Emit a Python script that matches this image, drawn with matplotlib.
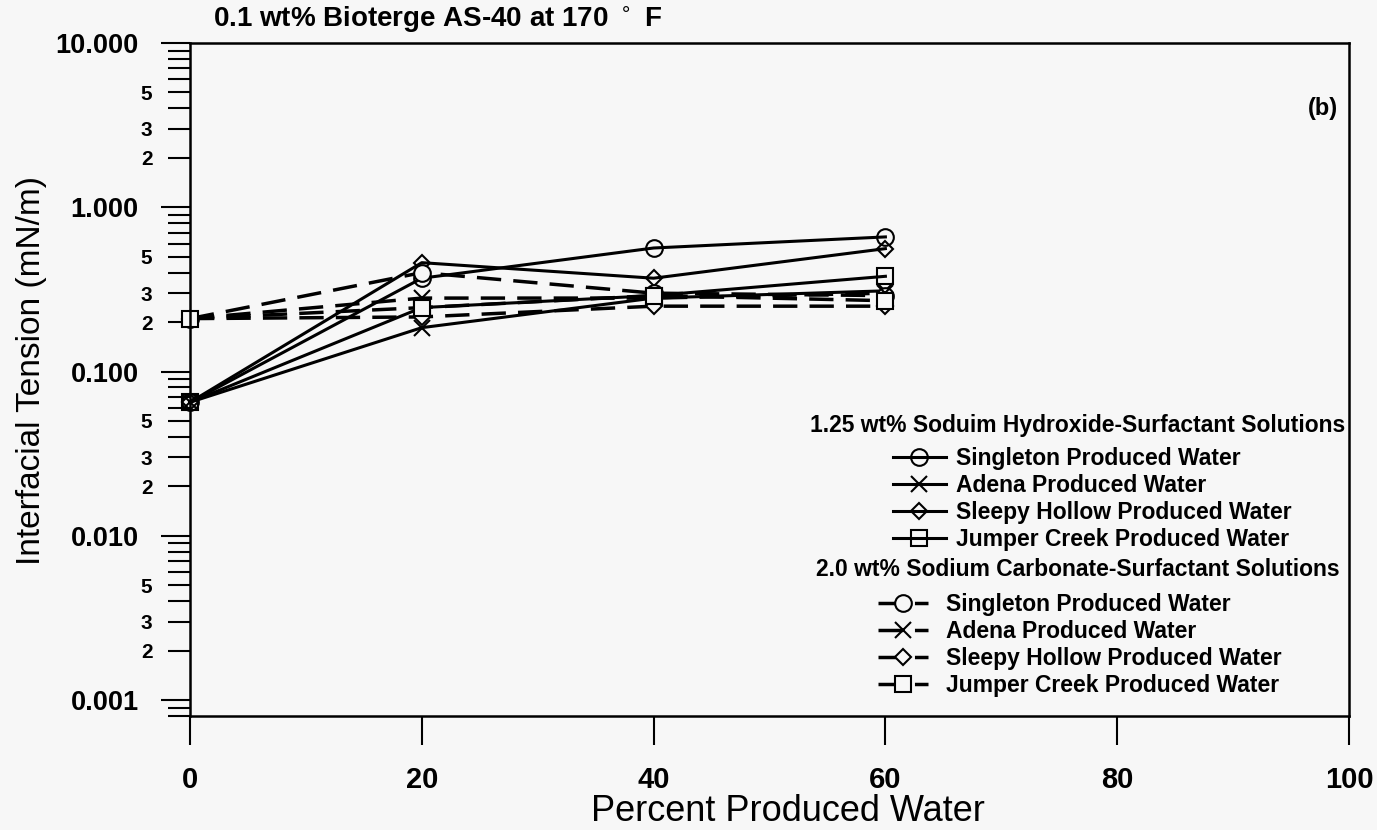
import matplotlib
matplotlib.use('Agg')
import matplotlib.pyplot as plt
from matplotlib.ticker import FixedLocator, FuncFormatter, FormatStrFormatter

plt.rcParams['font.family'] = ['Liberation Sans', 'DejaVu Sans']

# data
percent = [0, 20, 40, 60]
waters = ['Singleton Produced Water', 'Adena Produced Water',
          'Sleepy Hollow Produced Water', 'Jumper Creek Produced Water']
markers = ['o', 'x', 'D', 's']
msizes = [12, 12, 8.6, 11]

# 1.25 wt% sodium hydroxide (solid lines)
naoh_singleton = [0.065, 0.37, 0.565, 0.66]
naoh_adena = [0.065, 0.185, 0.28, 0.31]
naoh_sleepy = [0.065, 0.46, 0.37, 0.56]
naoh_jumper = [0.065, 0.245, 0.29, 0.38]

# 2.0 wt% sodium carbonate (dashed lines)
na2co3_singleton = [0.21, 0.40, 0.30, 0.29]
na2co3_adena = [0.21, 0.28, 0.28, 0.30]
na2co3_sleepy = [0.21, 0.215, 0.25, 0.25]
na2co3_jumper = [0.21, 0.245, 0.29, 0.27]

naoh = [naoh_singleton, naoh_adena, naoh_sleepy, naoh_jumper]
na2co3 = [na2co3_singleton, na2co3_adena, na2co3_sleepy, na2co3_jumper]

bg = '#f7f7f7'
W, H = 1377, 830
fig = plt.figure(figsize=(W/100, H/100), dpi=100, facecolor=bg)
ax = fig.add_axes([190/W, 1-716/H, (1349-190)/W, (716-43)/H], facecolor=bg)

solid_lines = []
for vals, m, ms in zip(naoh, markers, msizes):
    ln, = ax.plot(percent, vals, color='black', lw=2.2, marker=m, ms=ms,
                  mfc='none', mec='black', mew=1.5, clip_on=False)
    solid_lines.append(ln)

dashed_lines = []
for vals, m, ms in zip(na2co3, markers, msizes):
    ln, = ax.plot(percent, vals, color='black', lw=2.5, dashes=(7, 3.5),
                  marker=m, ms=ms, mfc=bg, mec='black', mew=1.5, clip_on=False)
    dashed_lines.append(ln)

ax.set_yscale('log')
ax.set_ylim(0.0008, 10)
ax.set_xlim(0, 100)
ax.set_xticks([0, 20, 40, 60, 80, 100])

ax.yaxis.set_major_formatter(FormatStrFormatter('%.3f'))
minor = [m*10.0**e for e in range(-4, 1) for m in range(2, 10)]
minor = [v for v in minor if 0.0008 <= v < 10]
ax.yaxis.set_minor_locator(FixedLocator(minor))

def minor_fmt(v, pos):
    d = round(v / 10.0**int(f'{v:e}'.split('e')[1]))
    return str(d) if d in (2, 3, 5) and v > 0.001 else ''

ax.yaxis.set_minor_formatter(FuncFormatter(minor_fmt))

for s in ax.spines.values():
    s.set_linewidth(1.8)

ax.tick_params(axis='y', which='major', direction='out', length=21, width=1.5,
               pad=16, labelsize=19.5)
ax.tick_params(axis='y', which='minor', direction='out', length=16, width=1.5,
               pad=11, labelsize=15)
ax.tick_params(axis='x', which='major', direction='out', length=21, width=1.5,
               pad=15, labelsize=21)
ax.tick_params(axis='x', which='minor', length=0)
for lab in ax.get_xticklabels() + ax.get_yticklabels(which='both'):
    lab.set_fontweight('bold')

ax.set_xlabel('Percent Produced Water', fontsize=26)
ax.set_ylabel('Interfacial Tension (mN/m)', fontsize=24)
ax.xaxis.set_label_coords((788-190)/(1349-190), -(794-716)/(716-43))
ax.yaxis.set_label_coords(-(190-47)/(1349-190), (716-370)/(716-43))

fig.text(213/W, 1-20/H, '0.1 wt% Bioterge AS-40 at 170 $^\\circ$ F',
         fontsize=20, fontweight='bold', va='center', ha='left')
ax.text((1338-190)/(1349-190), (716-108)/(716-43), '(b)',
        transform=ax.transAxes, fontsize=17, fontweight='bold',
        ha='right', va='center')

# legend headers
fig.text(1345/W, 1-425/H, '1.25 wt% Soduim Hydroxide-Surfactant Solutions',
         fontsize=16.5, fontweight='bold', ha='right', va='center')
fig.text(1340/W, 1-570/H, '2.0 wt% Sodium Carbonate-Surfactant Solutions',
         fontsize=16.5, fontweight='bold', ha='right', va='center')

legkw = dict(loc='upper left', bbox_transform=fig.transFigure, frameon=False,
             borderpad=0, borderaxespad=0, labelspacing=0.18,
             prop={'size': 16.5, 'weight': 'bold'})
leg1 = ax.legend(solid_lines, waters, bbox_to_anchor=(893/W, 1-447/H),
                 handlelength=2.3, handletextpad=0.45, **legkw)
ax.add_artist(leg1)
leg2 = ax.legend(dashed_lines, waters, bbox_to_anchor=(878/W, 1-593/H),
                 handlelength=2.2, handletextpad=0.75, **legkw)

fig.savefig('out.png', dpi=100, facecolor=bg)
